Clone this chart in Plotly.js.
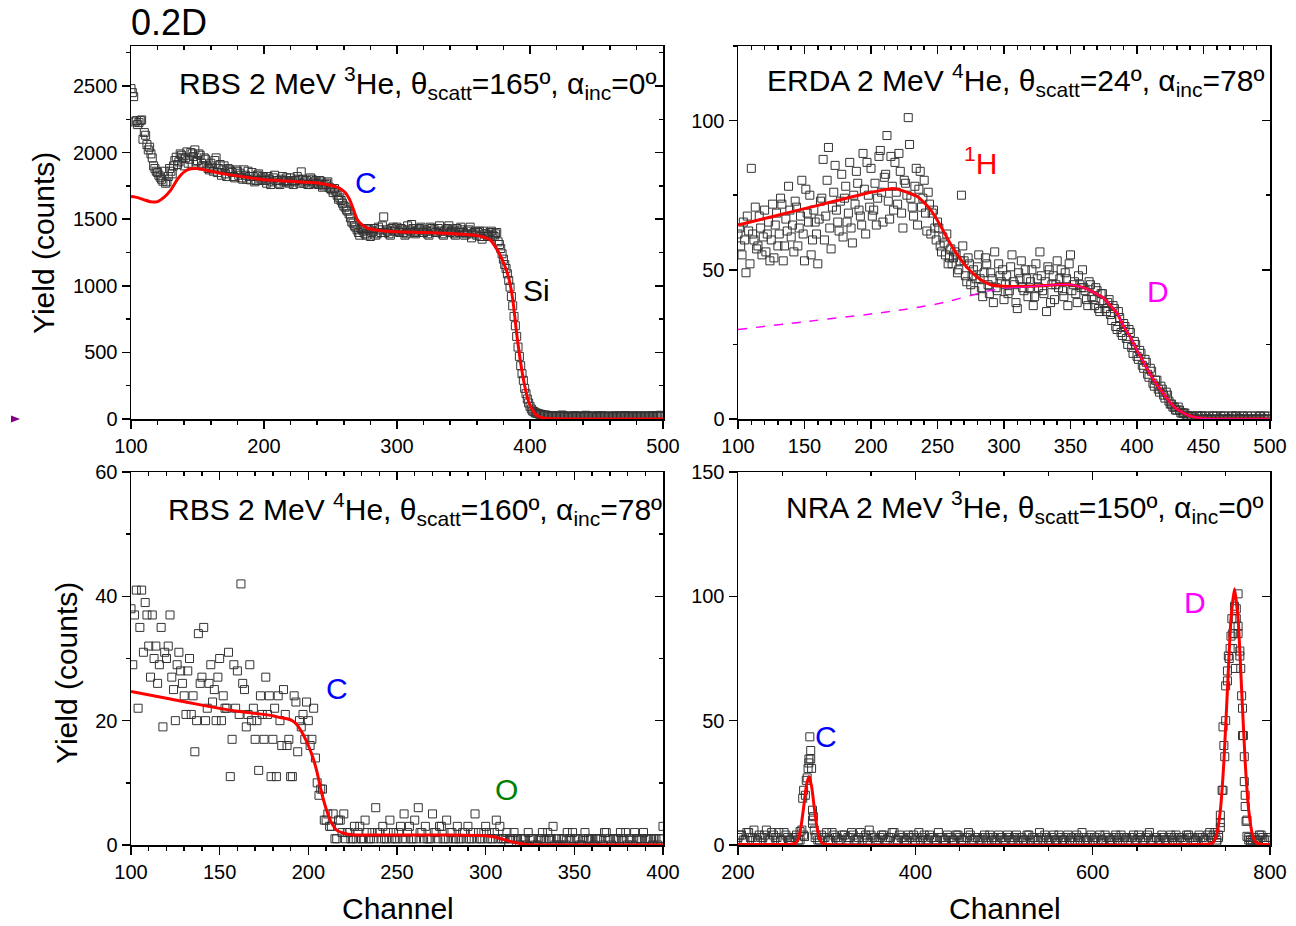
<!DOCTYPE html>
<html><head><meta charset="utf-8">
<script src="https://cdn.plot.ly/plotly-3.0.1.min.js"></script>
<style>html,body{margin:0;padding:0;background:#fff}#chart{width:1296px;height:926px}</style>
</head><body><div id="chart"></div>
<script>
// ---------- Panel 1: RBS 2 MeV 3He ----------
// even channels 100..498
const rbs1EvenStart = 100, rbs1Step = 2;
const rbs1CountsEven = [
 2480,2420,2240,2225,2245,2150,2060,2040,1960,1880,
 1850,1815,1785,1770,1820,1860,1900,1965,1930,1980,
 1900,2005,1950,1990,2020,1940,1980,1900,1950,1880,
 1920,1860,1960,1880,1830,1900,1820,1870,1850,1810,
 1860,1845,1800,1830,1860,1795,1820,1790,1840,1800,
 1810,1770,1800,1780,1830,1790,1760,1820,1790,1780,
 1810,1760,1790,1800,1855,1770,1790,1760,1800,1780,
 1770,1790,1740,1760,1780,1730,1700,1710,1650,1640,
 1600,1570,1540,1480,1450,1420,1380,1420,1390,1430,
 1370,1410,1380,1440,1400,1517,1420,1390,1430,1410,
 1440,1400,1420,1380,1450,1410,1430,1390,1420,1440,
 1400,1410,1380,1430,1420,1400,1450,1390,1410,1430,
 1400,1420,1380,1410,1440,1400,1390,1420,1360,1400,
 1380,1410,1350,1390,1370,1400,1380,1390,1330,1280,
 1200,1130,1040,920,770,620,470,340,230,150,
 95,60,45,40,35,30,30,25,20,25,
 18,22,30,20,15,22,18,25,20,16,
 22,28,20,18,22,15,20,25,18,22,
 20,16,24,20,18,22,26,20,15,22,
 18,24,20,18,22,20,25,18,22,28];
// odd channels 101..499
const rbs1OddStart = 101;
const rbs1CountsOdd = [
 2450,2230,2210,2240,2100,2130,2020,1990,1900,1860,
 1830,1800,1860,1780,1880,1840,1940,1910,1990,1960,
 1960,1920,2000,1970,1930,1990,1920,1960,1900,1870,
 1890,1940,1850,1910,1870,1840,1880,1860,1820,1870,
 1830,1810,1870,1800,1820,1850,1780,1830,1790,1820,
 1790,1820,1760,1810,1790,1770,1800,1780,1810,1770,
 1790,1780,1820,1770,1800,1780,1760,1810,1770,1790,
 1760,1780,1750,1770,1740,1720,1730,1680,1660,1620,
 1590,1560,1510,1470,1440,1400,1430,1410,1380,1420,
 1400,1430,1390,1420,1450,1400,1410,1380,1440,1420,
 1410,1430,1400,1390,1420,1460,1400,1410,1430,1400,
 1420,1390,1440,1410,1400,1430,1410,1380,1420,1450,
 1410,1390,1430,1400,1420,1380,1410,1440,1390,1410,
 1400,1370,1410,1390,1380,1410,1370,1400,1310,1240,
 1160,1090,990,850,700,540,400,290,190,120,
 75,55,45,38,32,28,25,22,24,20,
 22,18,25,20,22,17,24,20,18,22,
 20,24,18,22,20,25,18,22,20,16,
 22,20,18,24,20,22,18,20,24,20,
 22,18,20,24,20,18,22,26,20,24];
const rbs1FitCh = [100,105,110,115,120,125,130,135,140,145,150,160,170,180,190,200,210,220,230,240,250,255,258,261,264,267,270,274,278,282,286,290,300,320,340,360,370,375,378,381,384,387,390,393,396,399,402,405,410,420,450,500];
const rbs1FitY  = [1670,1662,1645,1630,1632,1665,1720,1800,1855,1878,1880,1860,1840,1825,1810,1796,1790,1784,1778,1772,1755,1740,1725,1700,1655,1580,1500,1455,1432,1422,1416,1412,1405,1400,1392,1378,1345,1275,1220,1150,1060,900,640,420,250,130,65,28,8,2,0,0];

// ---------- Panel 2: ERDA 2 MeV 4He ----------
const erdaEvenStart = 100, erdaStep = 2;
const erdaCountsEven = [
 62,58,66,49,63,84,60,57,68,55,
 70,62,53,72,65,58,74,53,67,78,
 61,56,71,64,80,53,69,75,60,66,
 52,73,87,68,91,57,76,70,63,82,
 74,66,86,59,72,79,68,89,62,75,
 84,70,65,88,76,81,95,67,78,86,
 72,83,64,79,101,74,68,84,77,71,
 80,63,72,69,64,66,58,61,55,52,
 57,54,55,50,75,53,46,52,48,43,
 51,47,41,54,45,49,39,44,52,46,
 40,48,43,55,45,37,47,44,50,41,
 46,38,52,44,48,42,36,50,45,40,
 53,47,43,49,38,55,45,42,48,44,
 44,40,46,41,38,43,36,42,37,39,
 35,38,31,36,29,32,27,30,24,26,
 21,23,18,20,15,17,12,13,10,11,
 8,9,6,5,4,3,3,2,2,1,
 0,1,0,1,1,0,0,1,0,1,
 1,0,0,1,0,0,1,1,0,0,
 1,0,0,1,0,0,1,0,1,0];
const erdaOddStart = 101;
const erdaCountsOdd = [
 64,55,60,68,52,62,71,58,64,61,
 56,66,60,54,69,62,72,58,63,70,
 65,73,58,68,62,77,66,55,70,62,
 67,74,60,80,64,71,85,66,73,61,
 78,69,64,75,83,70,65,77,86,71,
 68,79,74,90,66,82,73,88,70,76,
 89,69,80,75,92,71,78,65,83,74,
 69,76,62,70,60,64,56,59,62,54,
 52,56,49,53,58,48,54,45,50,47,
 55,44,49,52,42,47,56,43,48,50,
 45,42,51,46,39,49,53,43,47,44,
 50,41,47,56,43,46,51,39,48,45,
 44,50,41,47,52,43,46,39,45,50,
 43,38,45,40,44,37,42,39,36,40,
 33,37,30,34,28,31,25,29,22,25,
 20,22,17,19,14,16,11,13,9,10,
 7,8,5,4,3,4,2,2,1,1,
 1,0,1,0,1,1,0,0,1,0,
 0,1,1,0,0,1,0,1,0,1,
 0,1,0,0,1,0,1,0,0,1];
const erdaFitCh = [100,120,140,160,180,200,210,215,220,225,230,235,240,245,250,255,260,265,270,275,280,285,290,300,320,340,350,360,365,370,375,380,385,390,395,400,405,410,415,420,425,430,435,440,450,500];
const erdaFitY  = [65,67.2,69.4,71.6,73.8,76,76.8,77.2,77,76.3,75.5,74.5,72.5,70,66.5,62.5,58.5,55,52,49.5,47.5,46,45,44.5,44.5,45,45,44,43,41.8,40.5,38,35.5,31,27.5,23,19,15,11.5,8.5,5.5,3.3,2,1,0.2,0];
const erdaDCh = [100,150,200,225,250,270,285,300];
const erdaDY  = [30,32.6,35.2,36.7,38.6,40.8,42.6,43.8];
const erdaDSolidCh = [300,320,340,350,360,365,370,375,380,385,390,395,400,405,410,415,420,425,430,435,440,450,500];
const erdaDSolidY  = [43.8,44.4,45,45,44,43,41.8,40.5,38,35.5,31,27.5,23,19,15,11.5,8.5,5.5,3.3,2,1,0.2,0];

// ---------- Panel 3: RBS 2 MeV 4He ----------
const rbs2EvenStart = 100, rbs2Step = 2;
const rbs2CountsEven = [
 38,37,22,41,39,32,37,32,29,19,
 30,37,25,29,28,24,28,21,15,34,
 27,20,26,23,20,30,24,22,11,29,
 28,42,25,21,20,17,12,21,27,24,
 17,11,20,25,16,11,24,15,19,17,
 20,17,14,8,9,4,3,5,1,4,
 5,2,1,3,2,1,4,1,2,6,
 2,3,1,4,2,1,3,5,2,1,
 4,6,2,3,1,5,2,3,1,4,
 2,1,3,1,2,3,1,5,2,1,
 3,2,1,4,3,1,2,1,2,1,
 1,1,2,1,0,1,2,1,1,3,
 1,0,1,2,1,1,1,0,2,1,
 1,1,1,0,2,1,1,1,2,1,
 0,1,2,1,1,1,1,0,1,1,
 3];
const rbs2OddStart = 101;
const rbs2CountsOdd = [
 29,41,35,31,37,27,30,26,35,31,
 32,27,20,31,26,21,30,24,20,26,
 35,22,29,25,27,20,22,31,17,22,
 21,26,19,29,22,20,24,17,21,11,
 22,24,16,21,17,11,23,20,21,23,
 16,22,10,9,4,5,3,1,4,2,
 1,2,1,1,3,1,2,1,1,2,
 1,1,2,1,1,2,1,1,3,1,
 1,2,1,1,1,2,1,3,1,1,
 2,1,1,2,1,1,2,1,1,2,
 1,1,2,1,1,1,0,1,1,0,
 1,0,1,1,0,1,1,2,1,0,
 1,1,0,1,2,1,0,1,1,1,
 0,1,1,2,1,0,1,1,1,2,
 1,0,1,1,2,1,1,1,0,1];
const rbs2FitCh = [100,120,140,160,180,184,188,191,194,197,200,203,205,207,209,211,213,216,220,225,250,280,300,305,310,315,320,325,330,400];
const rbs2FitY  = [24.7,23.6,22.5,21.5,20.8,20.5,20.3,20.0,19.2,17.8,16.0,13.7,11.6,9.0,6.8,5.0,3.6,2.4,1.9,1.65,1.6,1.6,1.5,1.3,0.9,0.5,0.2,0.05,0,0];

// ---------- Panel 4: NRA 2 MeV 3He ----------
const nraStep = 4;
const nraAStart = 200;
const nraCountsA = [
 3,4,2,5,3,2,4,3,6,2,
 4,3,2,5,3,2,3,2,6,20,
 33,10,4,2,3,5,2,4,3,2,
 4,3,5,2,3,2,4,6,3,2,
 3,4,2,3,5,2,3,2,4,3,
 2,5,3,2,4,3,2,3,2,4,
 3,2,4,2,3,5,2,3,2,3,
 2,4,3,2,3,2,4,2,3,2,
 3,2,4,3,2,5,2,3,2,4,
 2,3,2,4,3,2,3,5,2,3,
 2,3,4,2,3,2,3,2,4,3,
 2,3,2,4,2,3,5,2,3,2,
 3,2,4,3,2,3,2,4,3,2,
 4,3,2,5,4,2,9,40,66,84,
 96,88,60,20,3,2,2,4,3,2,
 3];
const nraBStart = 202;
const nraCountsB = [
 4,2,5,3,6,2,3,4,2,5,
 3,5,2,4,2,3,4,2,4,27,
 38,6,2,4,3,2,5,3,2,4,
 2,3,4,2,5,3,2,4,3,2,
 4,2,3,5,2,4,3,2,3,4,
 3,2,4,2,3,2,5,3,2,3,
 2,4,3,2,3,4,2,3,2,4,
 3,2,2,4,3,2,3,2,4,3,
 2,4,2,3,2,3,4,2,3,2,
 4,2,3,2,3,4,2,3,2,4,
 3,2,2,4,3,2,4,3,2,3,
 3,4,2,3,2,4,2,3,2,4,
 2,3,2,4,3,2,4,3,2,3,
 3,2,4,3,5,3,22,50,75,85,
 95,78,44,10,2,3,2,4,2,3];
const nraPeakCCh = [270,273,274,275,277,279,280,281,282,283,284,284,285,287];
const nraPeakCY  = [5.4,18.8,22,3.4,26,30.8,34.6,43.5,34.6,30.8,14,8.7,11.4,3];
const nraPeakDCh = [740,742,744,744,747,747,749,750,752,753,755,758,757,759,761,762,764,764,766,767,769,769,771,771,772,773,774,776,778];
const nraPeakDY  = [1,4,7,12,22,47.5,35.5,64,70,76,79,79,91,85,71,91,101,85,76,71,55,44,35.5,25.5,15.5,9.5,3.5,2,1];
const nraFitCh = [200,260,265,268,271,274,277,280,283,286,289,292,295,300,720,732,736,740,744,748,752,756,760,764,768,772,776,780,784,790,800];
const nraFitY  = [0.2,0.3,0.7,2.5,7.2,15.1,23.6,27.5,23.6,15.1,7.2,2.5,0.7,0.2,0.2,0.4,1.1,4.5,14,33.5,62.5,91,103,91,62.5,33.5,14,4.5,1.1,0.3,0.2];

// ---------- texts ----------
const figTitle = '0.2D';
const panelTitles = [
 'RBS 2 MeV <sup>3</sup>He, θ<sub>scatt</sub>=165º, α<sub>inc</sub>=0º',
 'ERDA 2 MeV <sup>4</sup>He, θ<sub>scatt</sub>=24º, α<sub>inc</sub>=78º',
 'RBS 2 MeV <sup>4</sup>He, θ<sub>scatt</sub>=160º, α<sub>inc</sub>=78º',
 'NRA 2 MeV <sup>3</sup>He, θ<sub>scatt</sub>=150º, α<sub>inc</sub>=0º'];
const yTitle = 'Yield (counts)';
const xTitle = 'Channel';

// ---------- build ----------
const W = 1296, H = 926;
const FONT = 'Liberation Sans, Arial, Helvetica, sans-serif';
function chan(start, step, n){ const a=[]; for(let i=0;i<n;i++) a.push(start+i*step); return a; }
const dX = (a,b)=>[a/W, b/W];
const dY = (top,bottom)=>[1-bottom/H, 1-top/H];

const marker = {symbol:'square-open', size:8, color:'#333333', line:{width:1, color:'#333333'}};
const fitLine = {color:'#ff0000', width:3, shape:'spline', smoothing:0.6};

const traces = [];
function pts(x,y,ax){ traces.push({x:x,y:y,mode:'markers',type:'scatter',marker:marker,xaxis:'x'+ax,yaxis:'y'+ax,showlegend:false}); }
function line(x,y,ax,ln){ traces.push({x:x,y:y,mode:'lines',type:'scatter',line:ln,xaxis:'x'+ax,yaxis:'y'+ax,showlegend:false}); }

pts(chan(rbs1EvenStart,rbs1Step,rbs1CountsEven.length).concat(chan(rbs1OddStart,rbs1Step,rbs1CountsOdd.length)),
    rbs1CountsEven.concat(rbs1CountsOdd), '');
line(rbs1FitCh, rbs1FitY, '', fitLine);

pts(chan(erdaEvenStart,erdaStep,erdaCountsEven.length).concat(chan(erdaOddStart,erdaStep,erdaCountsOdd.length)),
    erdaCountsEven.concat(erdaCountsOdd), '2');
line(erdaDCh, erdaDY, '2', {color:'#ff00ff', width:1.5, dash:'dash', shape:'spline'});
line(erdaFitCh, erdaFitY, '2', fitLine);
line(erdaDSolidCh, erdaDSolidY, '2', {color:'#ff00ff', width:0.9, shape:'spline', smoothing:0.6});

pts(chan(rbs2EvenStart,rbs2Step,rbs2CountsEven.length).concat(chan(rbs2OddStart,rbs2Step,rbs2CountsOdd.length)),
    rbs2CountsEven.concat(rbs2CountsOdd), '3');
line(rbs2FitCh, rbs2FitY, '3', fitLine);

pts(chan(nraAStart,nraStep,nraCountsA.length).concat(chan(nraBStart,nraStep,nraCountsB.length), nraPeakCCh, nraPeakDCh),
    nraCountsA.concat(nraCountsB, nraPeakCY, nraPeakDY), '4');
line(nraFitCh, nraFitY, '4', {color:'#ff0000', width:3, shape:'spline', smoothing:0.5});

const layout = {
  width: W, height: H, margin:{l:0,r:0,t:0,b:0}, paper_bgcolor:'#fff', plot_bgcolor:'#fff',
  showlegend:false, font:{family:FONT, color:'#000'}, annotations:[], shapes:[]
};

const panels = [
  {id:'',  xd:dX(131,663),  yd:dY(46,419),  xr:[100,500], yr:[0,2800], xdt:100, xm:20, ydt:500, ym:250},
  {id:'2', xd:dX(738,1270), yd:dY(46,419),  xr:[100,500], yr:[0,125],  xdt:50,  xm:10, ydt:50,  ym:25},
  {id:'3', xd:dX(131,663),  yd:dY(472,845), xr:[100,400], yr:[0,60],   xdt:50,  xm:10, ydt:20,  ym:10},
  {id:'4', xd:dX(738,1270), yd:dY(472,845), xr:[200,800], yr:[0,150],  xdt:200, xm:50, ydt:50,  ym:null}
];
function axBase(dt, m, dir, labels){
  const a = {showline:true, linecolor:'#000', linewidth:1.5, ticks:dir, ticklen:8, tickwidth:1.5, tickcolor:'#000',
    showgrid:false, zeroline:false, tick0:0, dtick:dt, showticklabels:labels,
    tickfont:{family:FONT, size:20, color:'#000'}, fixedrange:true};
  if(m) a.minor = {ticks:dir, ticklen:4, tickwidth:1.5, tickcolor:'#000', dtick:m, tick0:0, showgrid:false};
  return a;
}
panels.forEach((p,i)=>{
  layout['xaxis'+p.id] = Object.assign(axBase(p.xdt,p.xm,'outside',true), {domain:p.xd, range:p.xr, anchor:'y'+p.id});
  layout['yaxis'+p.id] = Object.assign(axBase(p.ydt,p.ym,'outside',true), {domain:p.yd, range:p.yr, anchor:'x'+p.id});
  const mid = String(5+i);
  layout['xaxis'+mid] = Object.assign(axBase(p.xdt,p.xm,'inside',false), {range:p.xr, overlaying:'x'+p.id, side:'top', anchor:'y'+mid});
  layout['yaxis'+mid] = Object.assign(axBase(p.ydt,p.ym,'inside',false), {range:p.yr, overlaying:'y'+p.id, side:'right', anchor:'x'+mid});
  traces.push({x:[], y:[], type:'scatter', mode:'markers', xaxis:'x'+mid, yaxis:'y'+mid, showlegend:false, hoverinfo:'skip'});
});

const titlePos = [[0.0865,0.90],[0.0508,0.91],[0.0658,0.90],[0.0865,0.905]];
panelTitles.forEach((t,i)=>{
  const id = panels[i].id;
  layout.annotations.push({text:t, xref:'x'+id+' domain', yref:'y'+id+' domain', x:titlePos[i][0], y:titlePos[i][1],
    xanchor:'left', yanchor:'middle', showarrow:false, font:{family:FONT, size:30, color:'#000'}});
});
const lab = (t,ax,x,y,c)=>layout.annotations.push({text:t, xref:'x'+ax, yref:'y'+ax, x:x, y:y, showarrow:false,
  xanchor:'center', yanchor:'middle', font:{family:FONT, size:30, color:c}});
lab('C','',276.7,1779,'#0000ff');
lab('Si','',405,968,'#000000');
lab('<sup>1</sup>H','2',282.7,86.6,'#ff0000');
lab('D','2',415.8,42.8,'#ff00ff');
lab('C','3',216.2,25.25,'#0000ff');
lab('O','3',312,9.0,'#008000');
lab('C','4',299.2,43.8,'#0000ff');
lab('D','4',715.4,97.7,'#ff00ff');

const pa = (t,x,y,size,ang,xa)=>layout.annotations.push({text:t, xref:'paper', yref:'paper', x:x/W, y:1-y/H, showarrow:false,
  xanchor:xa||'center', yanchor:'middle', textangle:ang||0, font:{family:FONT, size:size, color:'#000'}});
pa(yTitle, 44, 243, 30, -90);
pa(yTitle, 66, 673, 30, -90);
pa(xTitle, 398, 908, 30);
pa(xTitle, 1005, 908, 30);
pa(figTitle, 129, 22, 36, 0, 'left');

layout.shapes.push({type:'path', xref:'paper', yref:'paper', line:{width:0}, fillcolor:'#800080',
  path:`M ${11/W},${1-415.5/H} L ${20/W},${1-419/H} L ${11/W},${1-422.5/H} Z`});

Plotly.newPlot('chart', traces, layout, {staticPlot:true, displayModeBar:false});
</script></body></html>
